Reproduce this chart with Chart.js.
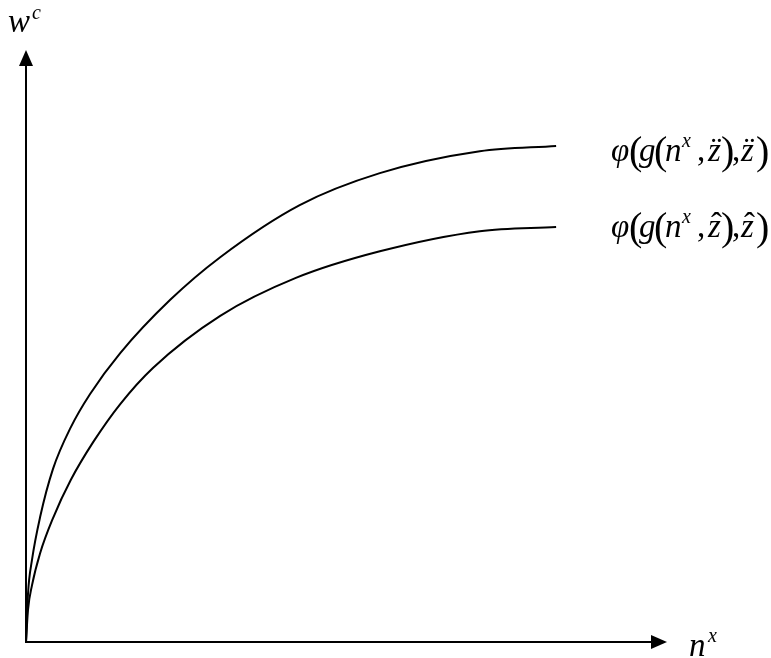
<!DOCTYPE html>
<html>
<head>
<meta charset="utf-8">
<script src="https://cdn.jsdelivr.net/npm/chart.js@4"></script>
<style>
  html, body { margin: 0; padding: 0; background: #fff; }
  #wrap { width: 771px; height: 658px; position: relative; }
</style>
</head>
<body>
<div id="wrap"><canvas id="c" width="771" height="658"></canvas></div>
<script>
// Data (arbitrary units, axes run 0..100)
const upperX = [0, 0.31, 0.94, 2.2, 4.2, 7.0, 10.0, 14.7, 22.5, 30.3, 42.7, 55.2, 70.8, 82.7];
const upperY = [0, 8.1, 13.9, 21.1, 29.2, 36.3, 41.9, 48.8, 57.8, 65.0, 73.8, 79.2, 82.9, 83.8];
const lowerX = [0, 0.31, 0.94, 2.2, 4.2, 7.0, 10.5, 14.7, 19.8, 30.3, 42.1, 55.2, 70.8, 82.7];
const lowerY = [0, 5.4, 9.6, 15.0, 20.9, 27.4, 33.8, 40.2, 46.3, 55.1, 61.5, 66.0, 69.4, 70.1];
const xAxisLabel = 'n';
const xAxisSup = 'x';
const yAxisLabel = 'w';
const yAxisSup = 'c';

const toPts = (xs, ys) => xs.map((x, i) => ({ x: x, y: ys[i] }));

const serif = "'Liberation Serif', 'Times New Roman', serif";
const F_IT = 'italic 33px ' + serif;
const F_SUP = 'italic 20px ' + serif;
const F_PAREN = 'normal 40px ' + serif;
const F_REG = 'normal 33px ' + serif;

function drawFormula(ctx, x0, base, accent) {
  // pieces: [text, font, dx, dy, accentChar]
  const pieces = [
    ['\u03C6', F_IT, -1, 0],
    ['(', F_PAREN, 17, 3],
    ['g', F_IT, 27, 0],
    ['(', F_PAREN, 42, 3],
    ['n', F_IT, 53, 0],
    ['x', F_SUP, 70, -14],
    [',', F_REG, 85, 0],
    ['z', F_IT, 96, 0, accent],
    [')', F_PAREN, 109, 3],
    [',', F_REG, 120, 0],
    ['z', F_IT, 129, 0, accent],
    [')', F_PAREN, 144, 3]
  ];
  ctx.fillStyle = '#000';
  ctx.textBaseline = 'alphabetic';
  ctx.textAlign = 'left';
  for (const p of pieces) {
    ctx.font = p[1];
    ctx.fillText(p[0], x0 + p[2], base + p[3]);
    if (p[4]) {
      const w = ctx.measureText(p[0]).width;
      ctx.font = F_REG;
      ctx.textAlign = 'center';
      ctx.fillText(p[4], x0 + p[2] + w / 2 + 2, base - 1);
      ctx.textAlign = 'left';
    }
  }
}

const decor = {
  id: 'decor',
  afterDraw(chart) {
    const ctx = chart.ctx;
    const xs = chart.scales.x, ys = chart.scales.y;
    const ox = xs.getPixelForValue(0), oy = ys.getPixelForValue(0);
    const xEnd = xs.getPixelForValue(100), yEnd = ys.getPixelForValue(100);
    ctx.save();
    ctx.strokeStyle = '#000';
    ctx.fillStyle = '#000';
    ctx.lineWidth = 2;
    ctx.beginPath();
    ctx.moveTo(ox, oy);
    ctx.lineTo(xEnd - 15, oy);
    ctx.moveTo(ox, oy + 1);
    ctx.lineTo(ox, yEnd + 15);
    ctx.stroke();
    // arrow heads
    ctx.beginPath();
    ctx.moveTo(xEnd, oy);
    ctx.lineTo(xEnd - 16, oy - 7);
    ctx.lineTo(xEnd - 16, oy + 7);
    ctx.closePath();
    ctx.fill();
    ctx.beginPath();
    ctx.moveTo(ox, yEnd);
    ctx.lineTo(ox - 7, yEnd + 16);
    ctx.lineTo(ox + 7, yEnd + 16);
    ctx.closePath();
    ctx.fill();
    // axis labels
    ctx.textAlign = 'left';
    ctx.textBaseline = 'alphabetic';
    ctx.font = F_IT;
    ctx.fillText(yAxisLabel, 8, 32);
    ctx.font = F_SUP;
    ctx.fillText(yAxisSup, 32, 19);
    ctx.font = F_IT;
    ctx.fillText(xAxisLabel, 689, 656);
    ctx.font = F_SUP;
    ctx.fillText(xAxisSup, 708, 642);
    // curve labels
    drawFormula(ctx, 612, 161, '\u00A8');
    drawFormula(ctx, 612, 237, '\u02C6');
    ctx.restore();
  }
};

new Chart(document.getElementById('c'), {
  type: 'scatter',
  data: {
    datasets: [
      { data: toPts(upperX, upperY), showLine: true, borderColor: '#000', borderWidth: 2,
        pointRadius: 0, cubicInterpolationMode: 'monotone', fill: false },
      { data: toPts(lowerX, lowerY), showLine: true, borderColor: '#000', borderWidth: 2,
        pointRadius: 0, cubicInterpolationMode: 'monotone', fill: false }
    ]
  },
  options: {
    responsive: false,
    animation: false,
    layout: { padding: { left: 26, right: 104, top: 50, bottom: 16 } },
    plugins: { legend: { display: false }, tooltip: { enabled: false } },
    scales: {
      x: { type: 'linear', min: 0, max: 100, display: false },
      y: { type: 'linear', min: 0, max: 100, display: false }
    }
  },
  plugins: [decor]
});
</script>
</body>
</html>
